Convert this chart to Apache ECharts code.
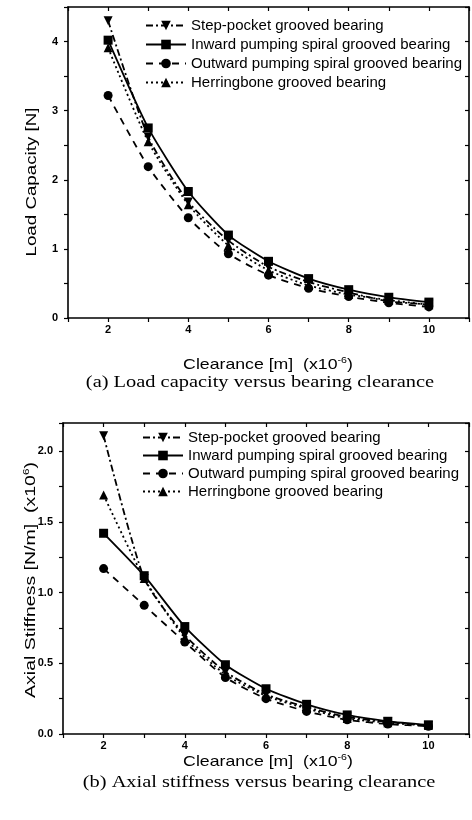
<!DOCTYPE html>
<html>
<head>
<meta charset="utf-8">
<script src="https://cdn.jsdelivr.net/npm/echarts@6/dist/echarts.min.js"></script>
<style>
html,body{margin:0;padding:0;background:#fff;}
#c{width:472px;height:820px;}
</style>
</head>
<body>
<div id="c"></div>
<script>
const clearance = [2, 3, 4, 5, 6, 7, 8, 9, 10];
const seriesNames = [
  'Step-pocket grooved bearing',
  'Inward pumping spiral grooved bearing',
  'Outward pumping spiral grooved bearing',
  'Herringbone grooved bearing'
];
// (a) Load capacity [N]
const loadStep    = [4.30, 2.62, 1.68, 1.12, 0.74, 0.52, 0.37, 0.24, 0.20];
const loadInward  = [4.02, 2.75, 1.83, 1.20, 0.82, 0.57, 0.41, 0.30, 0.23];
const loadOutward = [3.22, 2.19, 1.45, 0.93, 0.62, 0.43, 0.31, 0.22, 0.16];
const loadHerring = [3.91, 2.55, 1.64, 1.05, 0.69, 0.47, 0.34, 0.26, 0.19];
// (b) Axial stiffness [N/m] (x10^6)
const stiffStep    = [2.11, 1.10, 0.70, 0.44, 0.28, 0.19, 0.12, 0.085, 0.060];
const stiffInward  = [1.42, 1.12, 0.76, 0.49, 0.32, 0.21, 0.135, 0.090, 0.065];
const stiffOutward = [1.17, 0.91, 0.65, 0.40, 0.25, 0.16, 0.100, 0.070, 0.055];
const stiffHerring = [1.69, 1.10, 0.68, 0.42, 0.27, 0.18, 0.110, 0.080, 0.060];

const styles = [
  {symbol: 'triangle', rotate: 180, dash: [7, 3, 2, 3]},
  {symbol: 'rect', rotate: 0, dash: 'solid'},
  {symbol: 'circle', rotate: 0, dash: [7, 6]},
  {symbol: 'triangle', rotate: 0, dash: [2, 3]}
];

const chart = echarts.init(document.getElementById('c'), null, {renderer: 'canvas'});
const black = '#000';
const tickFont = {color: black, fontFamily: 'Liberation Sans', fontWeight: 'bold', fontSize: 11};

function pair(v) { return v.map((y, i) => [clearance[i], y]); }

function mkSeries(dataSets, xi) {
  return dataSets.map((d, k) => ({
    name: seriesNames[k],
    type: 'line',
    xAxisIndex: xi, yAxisIndex: xi,
    data: pair(d),
    smooth: 0.2,
    symbol: styles[k].symbol,
    symbolRotate: styles[k].rotate,
    symbolSize: 9,
    itemStyle: {color: black},
    lineStyle: {color: black, width: 1.8, type: styles[k].dash},
    emphasis: {disabled: true},
    animation: false,
    z: 3 + k
  }));
}

function xAxes(grid) {
  return [
    {type: 'value', gridIndex: grid, position: 'bottom', min: 1, max: 11, interval: 1,
     axisLine: {show: true, onZero: false, lineStyle: {color: black, width: 1.6}},
     axisTick: {show: true, inside: false, length: 4, lineStyle: {color: black, width: 1.2}},
     axisLabel: {...tickFont, margin: 6, formatter: v => (v % 2 === 0 ? String(v) : '')},
     splitLine: {show: false}},
    {type: 'value', gridIndex: grid, position: 'top', min: 1, max: 11, interval: 1,
     axisLine: {show: true, onZero: false, lineStyle: {color: black, width: 1.6}},
     axisTick: {show: true, inside: true, length: 4, lineStyle: {color: black, width: 1.2}},
     axisLabel: {show: false}, splitLine: {show: false}}
  ];
}

function yAxes(grid, max, interval, fmt) {
  return [
    {type: 'value', gridIndex: grid, position: 'left', min: 0, max: max, interval: interval,
     axisLine: {show: true, onZero: false, lineStyle: {color: black, width: 1.6}},
     axisTick: {show: true, inside: false, length: 4, lineStyle: {color: black, width: 1.2}},
     axisLabel: {...tickFont, margin: 10, formatter: fmt},
     splitLine: {show: false}},
    {type: 'value', gridIndex: grid, position: 'right', min: 0, max: max, interval: interval,
     axisLine: {show: true, onZero: false, lineStyle: {color: black, width: 1.6}},
     axisTick: {show: true, inside: true, length: 4, lineStyle: {color: black, width: 1.2}},
     axisLabel: {show: false}, splitLine: {show: false}}
  ];
}

const titleFont = 'Liberation Sans';
const capFont = 'Liberation Serif';

const xa = xAxes(0).concat(xAxes(1));
const ya = yAxes(0, 4.5, 0.5, v => (Math.abs(v - Math.round(v)) < 1e-6 ? String(Math.round(v)) : ''))
  .concat(yAxes(1, 2.2, 0.25, v => (Math.abs(v * 2 - Math.round(v * 2)) < 1e-6 ? v.toFixed(1) : '')));
const series = mkSeries([loadStep, loadInward, loadOutward, loadHerring], 0)
  .concat(mkSeries([stiffStep, stiffInward, stiffOutward, stiffHerring], 2));

function legend(left, top, gap) {
  return {
    orient: 'vertical', left: left, top: top, padding: 0,
    itemWidth: 40, itemHeight: 12, itemGap: gap,
    data: seriesNames,
    selectedMode: false,
    textStyle: {color: black, fontFamily: titleFont, fontSize: 15, lineHeight: 14}
  };
}

function xTitle(cx, cy) {
  return {
    type: 'text', x: cx, y: cy, scaleX: 1.18,
    style: {
      text: '{n|Clearance [m]  (x10}{s|-6}{n|)}',
      align: 'center', verticalAlign: 'middle', fill: black,
      rich: {
        n: {fontFamily: titleFont, fontSize: 15, fill: black, lineHeight: 18},
        s: {fontFamily: titleFont, fontSize: 9, fill: black, verticalAlign: 'top', lineHeight: 18}
      }
    }
  };
}

chart.setOption({
  backgroundColor: '#fff',
  animation: false,
  grid: [
    {left: 68, top: 7, width: 403, height: 311, containLabel: false},
    {left: 63, top: 423, width: 407, height: 311, containLabel: false}
  ],
  xAxis: xa,
  yAxis: ya,
  legend: [legend(145, 18, 4), legend(142, 430, 3)],
  series: series,
  graphic: [
    xTitle(268, 365),
    xTitle(268, 762),
    {type: 'text', x: 32, y: 182, rotation: Math.PI / 2, scaleX: 1.25,
     style: {text: 'Load Capacity [N]', fontFamily: titleFont, fontSize: 15, fill: black,
             align: 'center', verticalAlign: 'middle'}},
    {type: 'text', x: 31, y: 580, rotation: Math.PI / 2, scaleX: 1.3,
     style: {
       text: '{n|Axial Stiffness [N/m]  (x10}{s|6}{n|)}',
       align: 'center', verticalAlign: 'middle', fill: black,
       rich: {
         n: {fontFamily: titleFont, fontSize: 15, fill: black, lineHeight: 17},
         s: {fontFamily: titleFont, fontSize: 9, fill: black, verticalAlign: 'top', lineHeight: 17}
       }
     }},
    {type: 'text', x: 260, y: 383, scaleX: 1.2,
     style: {text: '(a) Load capacity versus bearing clearance', fontFamily: capFont, fontSize: 17,
             fill: black, align: 'center', verticalAlign: 'middle'}},
    {type: 'text', x: 259, y: 783, scaleX: 1.2,
     style: {text: '(b) Axial stiffness versus bearing clearance', fontFamily: capFont, fontSize: 17,
             fill: black, align: 'center', verticalAlign: 'middle'}}
  ]
});
</script>
</body>
</html>
